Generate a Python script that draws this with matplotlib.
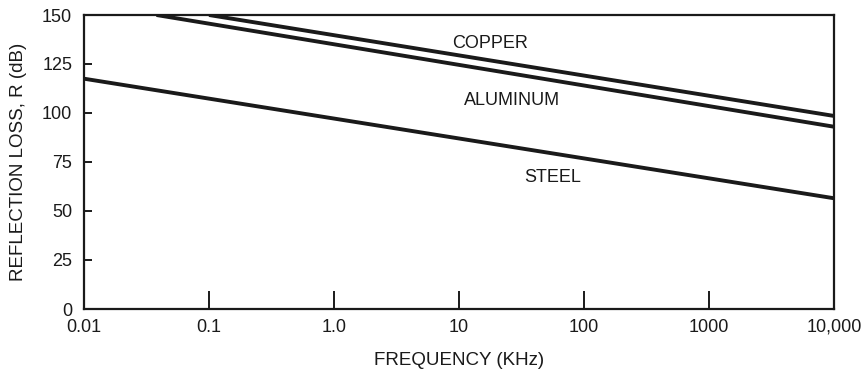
import matplotlib
matplotlib.use("Agg")
import matplotlib.pyplot as plt
from matplotlib.ticker import FixedLocator, FixedFormatter, NullLocator

plt.rcParams['font.family'] = ['Liberation Sans', 'DejaVu Sans']

# Data (frequency in kHz, reflection loss in dB)
copper_f = [0.1, 10000]
copper_r = [150, 98.5]
aluminum_f = [0.038, 10000]
aluminum_r = [150, 93]
steel_f = [0.01, 10000]
steel_r = [117.5, 56.5]

x_ticks = [0.01, 0.1, 1, 10, 100, 1000, 10000]
x_tick_labels = ["0.01", "0.1", "1.0", "10", "100", "1000", "10,000"]
y_ticks = [0, 25, 50, 75, 100, 125, 150]
y_tick_labels = ["0", "25", "50", "75", "100", "125", "150"]

ink = '#1a1a1a'

fig = plt.figure(figsize=(8.63, 3.74), dpi=100)
ax = fig.add_axes([84/863, 1-309/374, 750/863, 294/374])

lw = 2.8
for f, r in [(copper_f, copper_r), (aluminum_f, aluminum_r), (steel_f, steel_r)]:
    ax.plot(f, r, color=ink, lw=lw, solid_capstyle='butt')

ax.set_xscale('log')
ax.set_xlim(0.01, 10000)
ax.set_ylim(0, 150)

ax.xaxis.set_major_locator(FixedLocator(x_ticks))
ax.xaxis.set_major_formatter(FixedFormatter(x_tick_labels))
ax.xaxis.set_minor_locator(NullLocator())
ax.yaxis.set_major_locator(FixedLocator(y_ticks))
ax.yaxis.set_major_formatter(FixedFormatter(y_tick_labels))

for s in ax.spines.values():
    s.set_linewidth(1.6)
    s.set_color(ink)

ax.tick_params(axis='x', direction='in', length=13, width=1.4, labelsize=13, pad=7, colors=ink)
ax.tick_params(axis='y', direction='in', length=6, width=1.4, labelsize=13, pad=8.5, colors=ink)

ax.text(17.7, 135.7, "COPPER", ha='center', va='center', fontsize=13, color=ink)
ax.text(26.5, 106.6, "ALUMINUM", ha='center', va='center', fontsize=13, color=ink)
ax.text(56.5, 67.2, "STEEL", ha='center', va='center', fontsize=13, color=ink)

ax.set_xlabel("FREQUENCY (KHz)", fontsize=13.5, labelpad=12, color=ink)
ax.set_ylabel("REFLECTION LOSS, R (dB)", fontsize=13.5, labelpad=11, color=ink)

fig.savefig("out.png", dpi=100)
